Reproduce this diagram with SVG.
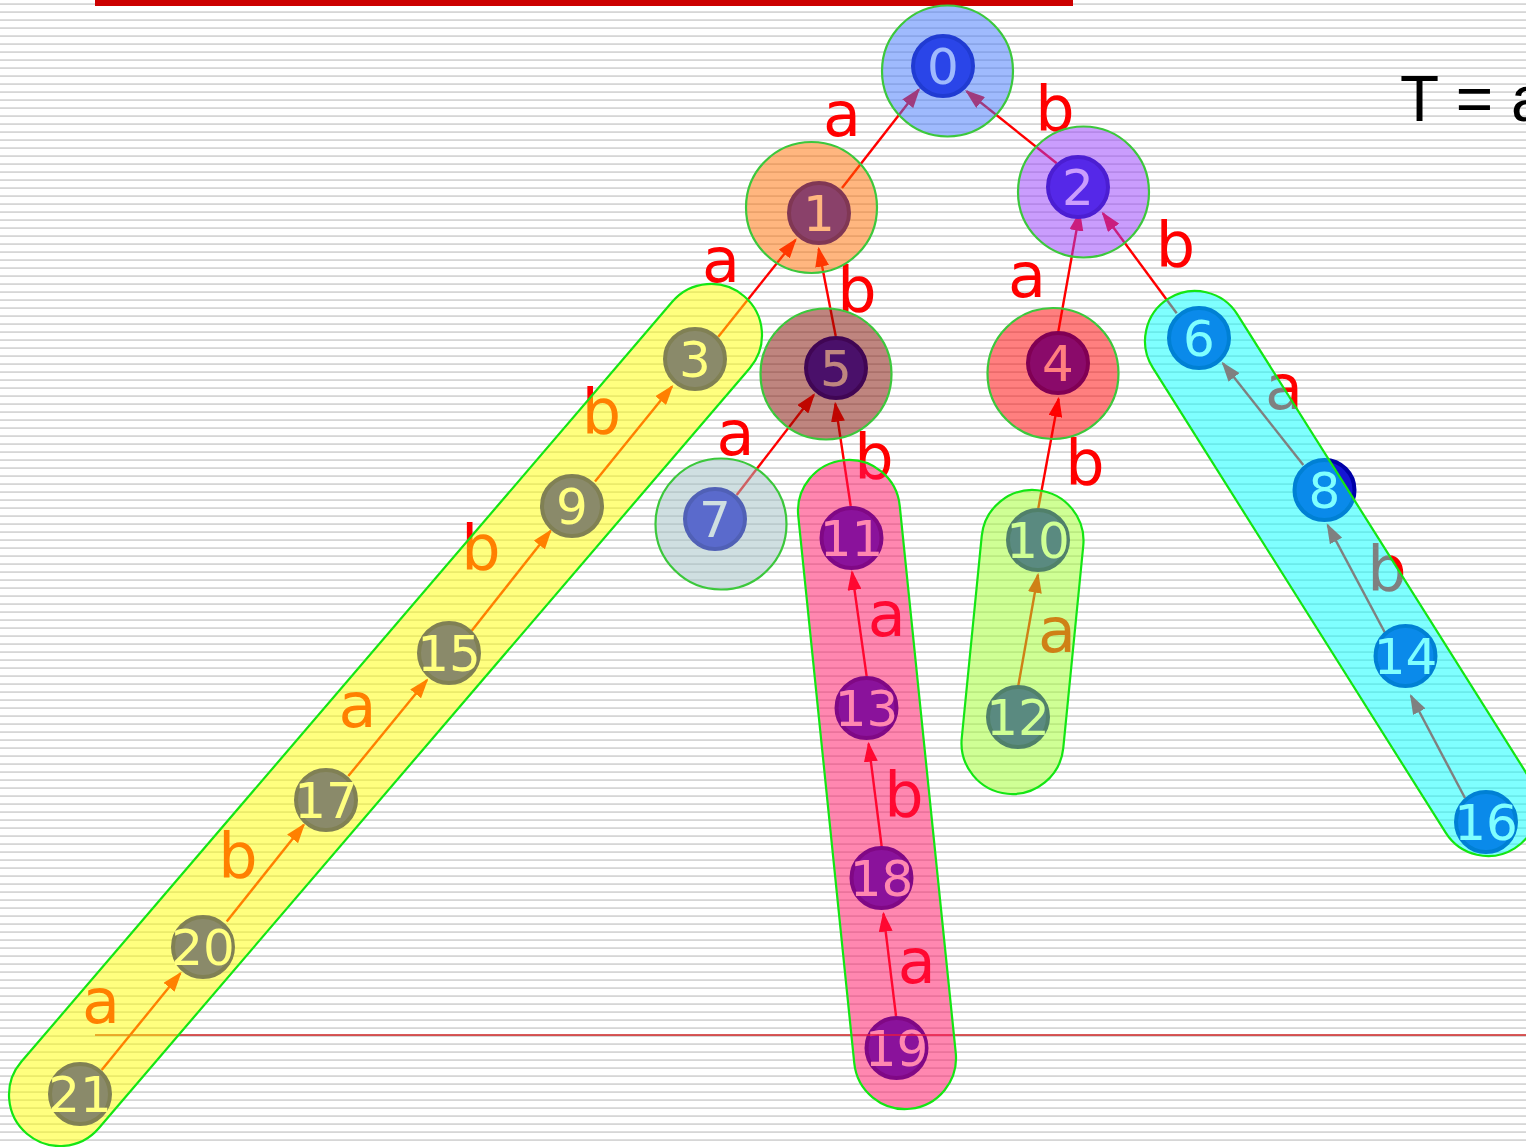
<svg xmlns="http://www.w3.org/2000/svg" width="1526" height="1147" viewBox="0 0 1526 1147">
<style>
.edge{stroke:#ff0000;stroke-width:2.4;fill:none;marker-end:url(#ah)}
.lbl{font-family:'DejaVu Sans',Verdana,sans-serif;font-size:62px;fill:#ff0000;text-anchor:middle}
.nd circle{fill:#1515d4;stroke:#0000a8;stroke-width:4}
.nd text{font-family:'DejaVu Sans',Verdana,sans-serif;font-size:50px;fill:#ffffff;text-anchor:middle}
.ov{fill-opacity:0.5;stroke:#3cc83c;stroke-width:2.2}
.pill{fill-opacity:0.5;stroke:#14e614;stroke-width:2.2}
</style>
<defs>
<pattern id="stripes" width="8" height="8" patternUnits="userSpaceOnUse"><rect y="3.2" width="8" height="1.8" fill="#d6d6d6"/></pattern>
<marker id="ah" markerUnits="userSpaceOnUse" markerWidth="20" markerHeight="14" refX="18" refY="7" orient="auto"><path d="M0,0 L20,7 L0,14 z" fill="#ff0000"/></marker>
</defs>
<rect width="1526" height="1147" fill="#ffffff"/>
<rect width="1526" height="1147" fill="url(#stripes)"/>
<rect x="95" y="0" width="978" height="6" fill="#cc0000"/>

<g id="connectors">
<line class="edge" x1="842" y1="188" x2="918.8" y2="89.6"/>
<line class="edge" x1="1056.7" y1="163.3" x2="966.6" y2="91.2"/>
<line class="edge" x1="718.3" y1="336.7" x2="795.5" y2="239.9"/>
<line class="edge" x1="835.7" y1="336" x2="818.7" y2="248.7"/>
<line class="edge" x1="1058.3" y1="331.7" x2="1079.6" y2="212.7"/>
<line class="edge" x1="1176.7" y1="313.3" x2="1102.9" y2="213.3"/>
<line class="edge" x1="736.7" y1="495" x2="813.8" y2="394.9"/>
<line class="edge" x1="850.7" y1="506" x2="835.3" y2="403.7"/>
<line class="edge" x1="1038.3" y1="508.3" x2="1058.6" y2="398.7"/>
<line class="edge" x1="1303.3" y1="465" x2="1222.9" y2="363.3"/>
<line class="edge" x1="1385" y1="632.7" x2="1327.6" y2="525.1"/>
<line class="edge" x1="1465" y1="798" x2="1410.9" y2="695.8"/>
<line class="edge" x1="1018.3" y1="685.7" x2="1038" y2="574.8"/>
<line class="edge" x1="595" y1="481.4" x2="672" y2="386.6"/>
<line class="edge" x1="471.7" y1="630.7" x2="550.5" y2="530.9"/>
<line class="edge" x1="348.3" y1="776.1" x2="427" y2="680"/>
<line class="edge" x1="226.7" y1="921.5" x2="303.8" y2="824.8"/>
<line class="edge" x1="101.7" y1="1070" x2="180.4" y2="973.3"/>
<line class="edge" x1="866.7" y1="676.7" x2="852" y2="572"/>
<line class="edge" x1="881.7" y1="846.7" x2="868.6" y2="743.7"/>
<line class="edge" x1="896" y1="1016" x2="883.5" y2="913.7"/>
</g>

<g id="edge-labels">
<text class="lbl" x="842" y="136">a</text>
<text class="lbl" x="1055" y="130">b</text>
<text class="lbl" x="1175.5" y="266">b</text>
<text class="lbl" x="721" y="282">a</text>
<text class="lbl" x="857" y="311">b</text>
<text class="lbl" x="1027" y="297">a</text>
<text class="lbl" x="735.5" y="455">a</text>
<text class="lbl" x="874" y="478">b</text>
<text class="lbl" x="1085" y="484">b</text>
<text class="lbl" x="1284" y="409">a</text>
<text class="lbl" x="1387" y="590">b</text>
<text class="lbl" x="601.5" y="433">b</text>
<text class="lbl" x="481" y="569">b</text>
<text class="lbl" x="357.5" y="727">a</text>
<text class="lbl" x="238" y="877">b</text>
<text class="lbl" x="101" y="1023">a</text>
<text class="lbl" x="886.7" y="636">a</text>
<text class="lbl" x="904" y="816">b</text>
<text class="lbl" x="916.7" y="983">a</text>
<text class="lbl" x="1057" y="652">a</text>
</g>

<g id="node-0" class="nd"><circle cx="943" cy="66" r="30"/><text x="943" y="84">0</text></g>
<g id="node-1" class="nd"><circle cx="819" cy="213" r="30"/><text x="819" y="231">1</text></g>
<g id="node-2" class="nd"><circle cx="1078" cy="187" r="30"/><text x="1078" y="205">2</text></g>
<g id="node-3" class="nd"><circle cx="695" cy="359" r="30"/><text x="695" y="377">3</text></g>
<g id="node-4" class="nd"><circle cx="1058" cy="363" r="30"/><text x="1058" y="381">4</text></g>
<g id="node-5" class="nd"><circle cx="836" cy="368" r="30"/><text x="836" y="386">5</text></g>
<g id="node-6" class="nd"><circle cx="1199" cy="338" r="30"/><text x="1199" y="356">6</text></g>
<g id="node-7" class="nd"><circle cx="715" cy="519" r="30"/><text x="715" y="537">7</text></g>
<g id="node-8" class="nd"><circle cx="1324.5" cy="490" r="30"/><text x="1324.5" y="508">8</text></g>
<g id="node-9" class="nd"><circle cx="572" cy="506" r="30"/><text x="572" y="524">9</text></g>
<g id="node-10" class="nd"><circle cx="1038" cy="540" r="30"/><text x="1038" y="558">10</text></g>
<g id="node-11" class="nd"><circle cx="851.5" cy="538" r="30"/><text x="851.5" y="556">11</text></g>
<g id="node-12" class="nd"><circle cx="1018" cy="717" r="30"/><text x="1018" y="735">12</text></g>
<g id="node-13" class="nd"><circle cx="866.5" cy="708" r="30"/><text x="866.5" y="726">13</text></g>
<g id="node-14" class="nd"><circle cx="1405.5" cy="656" r="30"/><text x="1405.5" y="674">14</text></g>
<g id="node-15" class="nd"><circle cx="449" cy="653" r="30"/><text x="449" y="671">15</text></g>
<g id="node-16" class="nd"><circle cx="1486" cy="822" r="30"/><text x="1486" y="840">16</text></g>
<g id="node-17" class="nd"><circle cx="326" cy="800" r="30"/><text x="326" y="818">17</text></g>
<g id="node-18" class="nd"><circle cx="881.5" cy="878" r="30"/><text x="881.5" y="896">18</text></g>
<g id="node-19" class="nd"><circle cx="896.5" cy="1048" r="30"/><text x="896.5" y="1066">19</text></g>
<g id="node-20" class="nd"><circle cx="203" cy="947" r="30"/><text x="203" y="965">20</text></g>
<g id="node-21" class="nd"><circle cx="80" cy="1094" r="30"/><text x="80" y="1112">21</text></g>

<line x1="95" y1="1035" x2="1526" y2="1035" stroke="#cc2222" stroke-width="1.5"/>

<g id="groups">
<circle id="halo-0" class="ov" cx="947.5" cy="71" r="65.5" fill="#3f75fc"/>
<circle id="halo-1" class="ov" cx="811.5" cy="207.5" r="65.5" fill="#ff6d00"/>
<circle id="halo-2" class="ov" cx="1083.5" cy="192" r="65.5" fill="#953bfc"/>
<circle id="halo-5" class="ov" cx="826" cy="374" r="65.5" fill="#7f0b00"/>
<circle id="halo-4" class="ov" cx="1053" cy="373.5" r="65.5" fill="#ff0000"/>
<circle id="halo-7" class="ov" cx="721" cy="524" r="65.5" fill="#9fbfc4"/>
<rect id="pill-yellow" class="pill" x="-551.35" y="-51" width="1102.7" height="102" rx="51" fill="#ffff00" transform="translate(385.5 715) rotate(-49.42)"/>
<rect id="pill-pink" class="pill" x="-325.95" y="-51" width="651.9" height="102" rx="51" fill="#ff0f62" transform="translate(877 784.5) rotate(84.155)"/>
<rect id="pill-green" class="pill" x="-152.5" y="-51" width="305" height="102" rx="51" fill="#9fff2c" transform="translate(1022.5 642) rotate(95.65)"/>
<rect id="pill-cyan" class="pill" x="-324.8" y="-50" width="649.6" height="100" rx="50" fill="#00ffff" transform="translate(1341.5 573.5) rotate(57.79)"/>
</g>

<text font-family="'Liberation Sans',Arial,sans-serif" font-size="64" fill="#000000" x="1400" y="121">T = a</text>
</svg>
